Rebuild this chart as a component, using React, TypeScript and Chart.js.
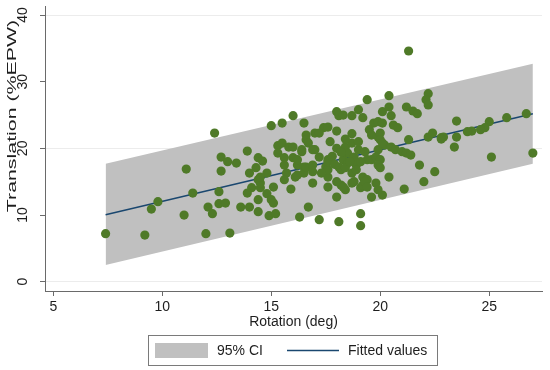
import React, { useEffect, useRef } from 'react';
import { Chart, registerables } from 'chart.js';

Chart.register(...registerables);

// Scatter observations
const rotationDeg = [
  7.4, 9.2, 9.5, 9.8, 11.0, 11.4, 11.1, 12.4, 12.7, 13.0, 12.7, 12.6, 12.1, 12.3, 12.6, 12.9, 12.0, 13.1,
  16.0, 15.0, 15.5, 16.5, 16.6, 13.9, 13.4, 14.4, 14.6, 15.3, 15.5, 15.8, 16.0, 15.3, 15.6, 16.0, 16.4,
  15.6, 16.2, 16.5, 15.7, 15.6, 16.1, 16.5, 14.0, 14.3, 14.8, 14.4, 14.1, 13.9, 14.5, 15.1, 14.8, 14.4,
  15.0, 15.1, 13.6, 14.0, 14.4, 14.9, 15.2, 15.9, 16.7, 16.3,
  19.4, 18.0, 18.1, 18.3, 18.7, 19.0, 19.2, 17.0, 17.4, 17.6, 18.0, 18.7, 19.7, 19.5, 19.9, 16.6, 16.7,
  17.2, 17.0, 17.2, 17.6, 17.5, 16.6, 18.4, 18.7, 18.5, 18.8, 19.0, 18.3, 18.5, 18.9, 18.2, 18.7, 19.2,
  19.4, 19.6, 19.9, 17.6, 17.6, 18.2, 18.0, 18.4, 18.7, 19.1, 19.2, 19.6, 16.9, 17.2, 18.1, 19.1, 19.1,
  19.0, 19.6, 16.9, 16.4, 16.2, 16.2, 16.9, 17.6, 18.1, 18.4, 18.9, 18.0, 18.3, 18.8, 19.3, 19.4, 17.6,
  19.3, 19.4, 19.8, 20.0, 19.9, 20.0,
  21.3, 22.2, 22.1, 22.2, 20.4, 21.2, 21.5, 21.7, 20.1, 20.4, 20.5, 19.9, 20.1, 20.6, 20.8, 20.0, 20.0,
  20.2, 20.5, 20.7, 21.0, 21.2, 21.4, 21.3, 22.2, 22.4, 22.8, 21.8, 22.5, 22.0, 20.4, 21.1, 19.8, 20.1,
  19.9, 20.1,
  26.7, 25.8, 25.0, 24.8, 24.6, 24.2, 24.0, 23.5, 23.5, 22.9, 22.8, 23.4, 25.1, 27.0,
  14.5, 14.5,
  18.0, 18.2, 17.8, 18.6, 19.1, 17.9, 18.4, 17.7, 16.9, 17.3,
];
const translationEPW = [
  7.2, 7.0, 10.9, 12.0, 10.0, 13.3, 16.9, 22.3, 18.7, 18.0, 16.6, 13.5, 11.2, 10.2, 11.7, 11.8, 7.2, 7.3,
  24.9, 23.4, 23.8, 23.8, 22.0, 19.6, 17.8, 18.6, 18.1, 20.4, 20.8, 20.2, 20.2, 19.3, 18.6, 18.6, 19.5,
  17.5, 17.5, 17.2, 16.3, 15.3, 15.7, 16.3, 16.3, 17.1, 16.3, 15.3, 14.1, 13.3, 14.1, 14.2, 13.2, 12.3,
  12.3, 11.8, 11.2, 11.2, 10.5, 9.9, 10.2, 13.9, 11.2, 9.7,
  27.3, 25.5, 24.9, 25.0, 24.9, 25.8, 24.6, 22.3, 23.1, 23.2, 22.6, 22.2, 23.8, 22.8, 21.7, 21.3, 20.8,
  22.3, 19.8, 18.7, 18.3, 17.2, 17.2, 20.2, 20.8, 19.3, 18.7, 19.8, 18.3, 17.8, 17.5, 16.8, 16.3, 15.7,
  15.3, 18.3, 19.8, 15.7, 14.2, 14.5, 12.7, 13.8, 14.8, 14.1, 14.5, 12.7, 14.8, 9.3, 9.0, 10.2, 8.4,
  21.0, 22.0, 19.8, 19.8, 18.3, 16.0, 16.5, 16.8, 17.2, 17.1, 16.8, 15.0, 14.2, 15.0, 15.0, 14.2, 18.0,
  19.5, 18.3, 18.7, 18.3, 17.5, 17.1,
  34.6, 28.2, 27.3, 26.5, 27.9, 26.2, 25.6, 25.2, 25.5, 26.2, 24.9, 24.0, 23.8, 23.5, 23.1, 22.3, 21.3,
  20.5, 20.2, 19.8, 19.5, 19.3, 19.0, 21.3, 21.7, 22.3, 21.6, 17.5, 16.5, 15.0, 15.7, 13.9, 14.8, 13.0,
  13.8, 20.8,
  25.2, 24.6, 24.0, 23.1, 22.8, 22.6, 22.5, 24.1, 21.7, 21.7, 21.4, 20.2, 18.7, 19.3,
  14.8, 15.7,
  20.0, 19.4, 18.8, 18.0, 18.0, 17.6, 21.4, 21.0, 17.5, 16.3,
];

// Fitted line and 95% confidence band (end points)
const fitRotation = [7.4, 27.0];
const fittedValues = [10.05, 25.2];
const ciUpper = [17.7, 32.7];
const ciLower = [2.5, 17.7];

// Axis ticks
const xTicks = [5, 10, 15, 20, 25];
const yTicks = [0, 10, 20, 30, 40];
const gridLevels = [0, 20, 40];

const FONT = '"Liberation Sans", Arial, Helvetica, sans-serif';
const TEXT = '#1e1e1e';
const AXIS = '#6a6a6a';
const GREEN = '#4f7a28';
const BAND = '#c0c0c0';
const NAVY = '#1a476f';

const yTitle = 'Translation (%EPW)';

const overlayPlugin = {
  id: 'stataOverlay',
  afterDraw(chart: any) {
    const ctx = chart.ctx as CanvasRenderingContext2D;
    const ds = chart.data.datasets;
    ctx.save();
    // y axis title (stretched as in the reference)
    ctx.font = `13.5px ${FONT}`;
    ctx.fillStyle = TEXT;
    ctx.textAlign = 'center';
    ctx.textBaseline = 'middle';
    ctx.translate(12.5, 116);
    ctx.rotate(-Math.PI / 2);
    ctx.scale(1.58, 1);
    ctx.fillText(yTitle, 0, 0);
    ctx.restore();

    // legend box
    ctx.save();
    ctx.strokeStyle = '#7a7a7a';
    ctx.lineWidth = 1;
    ctx.strokeRect(148.5, 335.5, 289, 30);
    ctx.fillStyle = BAND;
    ctx.fillRect(155, 343, 53, 15);
    ctx.strokeStyle = NAVY;
    ctx.lineWidth = 1.5;
    ctx.beginPath();
    ctx.moveTo(287, 350.5);
    ctx.lineTo(339, 350.5);
    ctx.stroke();
    ctx.font = `14px ${FONT}`;
    ctx.fillStyle = TEXT;
    ctx.textAlign = 'left';
    ctx.textBaseline = 'middle';
    ctx.fillText(ds[2].label, 217, 351);
    ctx.fillText(ds[1].label, 348, 351);
    ctx.restore();
  },
};

export default function App() {
  const ref = useRef<HTMLCanvasElement | null>(null);

  useEffect(() => {
    document.body.style.margin = '0';
    if (!ref.current) return;
    const points = rotationDeg.map((x, i) => ({ x, y: translationEPW[i] }));
    const fit = fitRotation.map((x, i) => ({ x, y: fittedValues[i] }));
    const up = fitRotation.map((x, i) => ({ x, y: ciUpper[i] }));
    const lo = fitRotation.map((x, i) => ({ x, y: ciLower[i] }));

    const chart = new Chart(ref.current, {
      type: 'scatter',
      data: {
        datasets: [
          {
            label: 'Translation',
            data: points,
            backgroundColor: GREEN,
            borderWidth: 0,
            pointRadius: 4.6,
            showLine: false,
          },
          {
            label: 'Fitted values',
            data: fit,
            showLine: true,
            borderColor: NAVY,
            borderWidth: 1.5,
            pointRadius: 0,
            fill: false,
          },
          {
            label: '95% CI',
            data: up,
            showLine: true,
            borderWidth: 0,
            borderColor: 'rgba(0,0,0,0)',
            backgroundColor: BAND,
            pointRadius: 0,
            fill: '+1',
          },
          {
            label: '95% CI lower',
            data: lo,
            showLine: true,
            borderWidth: 0,
            borderColor: 'rgba(0,0,0,0)',
            pointRadius: 0,
            fill: false,
          },
        ],
      },
      options: {
        animation: false,
        responsive: false,
        devicePixelRatio: 1,
        layout: { padding: { top: 6, right: 8, bottom: 39, left: 0 } },
        plugins: {
          legend: { display: false },
          tooltip: { enabled: false },
        },
        scales: {
          x: {
            type: 'linear',
            min: 4.62,
            max: 27.42,
            afterBuildTicks: (s: any) => {
              s.ticks = xTicks.map((v) => ({ value: v }));
            },
            afterFit: (s: any) => {
              s.height = 40;
              s.paddingLeft = 0;
              s.paddingRight = 0;
            },
            border: { display: true, color: AXIS, width: 1 },
            grid: { drawOnChartArea: false, drawTicks: true, tickLength: 5, tickColor: AXIS },
            ticks: {
              font: { family: FONT, size: 14 },
              color: TEXT,
              padding: 3,
              maxRotation: 0,
            },
            title: {
              display: true,
              text: 'Rotation (deg)',
              font: { family: FONT, size: 14 },
              color: TEXT,
              padding: 0,
            },
          },
          y: {
            type: 'linear',
            min: -1.39,
            max: 41.35,
            afterBuildTicks: (s: any) => {
              s.ticks = yTicks.map((v) => ({ value: v }));
            },
            afterFit: (s: any) => {
              s.width = 45;
              s.paddingTop = 0;
              s.paddingBottom = 0;
            },
            border: { display: true, color: AXIS, width: 1 },
            grid: {
              drawOnChartArea: true,
              color: (c: any) =>
                c.tick && gridLevels.includes(c.tick.value) ? '#ececec' : 'rgba(0,0,0,0)',
              tickLength: 5,
              tickColor: AXIS,
            },
            ticks: {
              font: { family: FONT, size: 14 },
              color: TEXT,
              minRotation: 90,
              maxRotation: 90,
              crossAlign: 'center',
              padding: 9,
            },
            title: { display: false },
          },
        },
      },
      plugins: [overlayPlugin],
    } as any);

    return () => chart.destroy();
  }, []);

  return (
    <div style={{ position: 'absolute', left: 0, top: 0, width: 550, height: 370 }}>
      <canvas ref={ref} width={550} height={370} />
    </div>
  );
}
